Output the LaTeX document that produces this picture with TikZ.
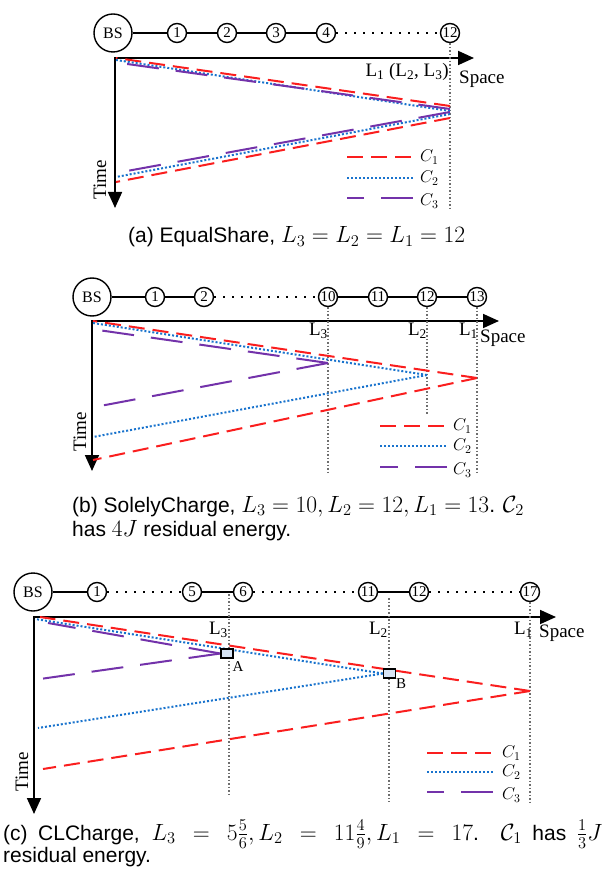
\RequirePackage{fix-cm}
\documentclass[tikz,border=0pt]{standalone}
\usepackage[no-math]{fontspec}
\setmainfont{Liberation Serif}
\newfontfamily\capfont{Liberation Sans}
\usetikzlibrary{arrows.meta}
\definecolor{cred}{RGB}{250,30,30}
\definecolor{cblue}{RGB}{25,115,205}
\definecolor{cpurple}{RGB}{115,50,170}
\definecolor{cgray}{RGB}{110,110,110}
\definecolor{boxfill}{RGB}{215,228,245}
\newcommand\Lab[1]{L\textsubscript{#1}}
\newcommand\capmath[1]{{\fontsize{23.5}{26}\selectfont$#1$}}
\begin{document}
\begin{tikzpicture}[x=1pt,y=-1pt,
  cone/.style={draw=cred, line width=2pt, dash pattern=on 16pt off 8pt},
  ctwo/.style={draw=cblue, line width=2pt, dash pattern=on 2pt off 2pt},
  cthree/.style={draw=cpurple, line width=2pt, dash pattern=on 32pt off 17pt},
  guideline/.style={draw=cgray, line width=1.3pt, dash pattern=on 1.5pt off 2pt},
  axisline/.style={draw=black, line width=1.8pt, {Triangle[length=16pt,width=14pt]}-{Triangle[length=16pt,width=14pt]}},
  sn/.style={circle, draw, line width=1.4pt, minimum size=19pt, inner sep=0pt, font=\fontsize{15}{15}\selectfont},
  bs/.style={circle, draw, line width=1.4pt, minimum size=38pt, inner sep=0pt, font=\fontsize{16}{16}\selectfont},
  linkline/.style={line width=1.4pt},
  dotline/.style={line width=1.6pt, dash pattern=on 1.6pt off 7.4pt},
  lab/.style={font=\fontsize{19}{19}\selectfont, inner sep=0pt},
  leg/.style={font=\fontsize{17}{17}\selectfont, inner sep=0pt, anchor=west},
  ptbox/.style={draw, line width=1.4pt, fill=boxfill, minimum width=12pt, minimum height=9pt, inner sep=0pt},
  ptlab/.style={font=\fontsize{15}{15}\selectfont, inner sep=0pt},
  captext/.style={font=\capfont\fontsize{21}{24}\selectfont, inner sep=0pt, anchor=base west}
]
\useasboundingbox (0,0) rectangle (607,874);

% ================= Panel (a) =================
\node[bs] (aBS) at (113,33) {BS};
\node[sn] (a1) at (177,33) {1};
\node[sn] (a2) at (227,33) {2};
\node[sn] (a3) at (276,33) {3};
\node[sn] (a4) at (326,33) {4};
\node[sn] (a12) at (450,33) {12};
\draw[linkline] (aBS) -- (a1) -- (a2) -- (a3) -- (a4);
\draw[dotline] (a4) -- (a12);
\coordinate (aO) at (115,58);
\coordinate (aX) at (474,58);
\coordinate (aY) at (115,208);
\draw[axisline] (aX) -- (aO) -- (aY);
\coordinate (ag) at (450,208);
\draw[guideline] (a12.south) -- (ag);
\node[lab, anchor=east] (aL) at (449,72) {\Lab{1} (\Lab{2}, \Lab{3})};
\node[lab, anchor=west] (aS) at (459,79) {Space};
\node[lab, rotate=90] (aT) at (100,180) {Time};
\coordinate (ar1) at (116,58);  \coordinate (ar2) at (450,106);
\coordinate (ar3) at (450,118); \coordinate (ar4) at (116,182);
\coordinate (ab1) at (116,60);  \coordinate (ab2) at (450,111);
\coordinate (ab3) at (450,114); \coordinate (ab4) at (116,177);
\coordinate (ap1) at (120,63);  \coordinate (ap2) at (450,109);
\coordinate (ap3) at (450,112); \coordinate (ap4) at (116,173);
\draw[cone] (ar2) -- (ar1); \draw[cone] (ar3) -- (ar4);
\draw[ctwo] (ab2) -- (ab1); \draw[ctwo] (ab3) -- (ab4);
\draw[cthree] (ap2) -- (ap1); \draw[cthree] (ap3) -- (ap4);
\coordinate (alr1) at (347,157); \coordinate (alr2) at (413,157);
\coordinate (alb1) at (347,178); \coordinate (alb2) at (413,178);
\coordinate (alp1) at (347,198); \coordinate (alp2) at (413,198);
\draw[cone] (alr1) -- (alr2); \node[leg] (alc1) at (420,157) {$C_1$};
\draw[ctwo] (alb1) -- (alb2); \node[leg] (alc2) at (420,178) {$C_2$};
\draw[cthree] (alp2) -- (alp1); \node[leg] (alc3) at (420,201) {$C_3$};
\node[captext] (capa) at (128,243) {(a) EqualShare, \capmath{L_3=L_2=L_1=12}};

% ================= Panel (b) =================
\node[bs] (bBS) at (92,297) {BS};
\node[sn] (b1) at (155,297) {1};
\node[sn] (b2) at (204,297) {2};
\node[sn] (b10) at (328,297) {10};
\node[sn] (b11) at (378,297) {11};
\node[sn] (b12) at (427,297) {12};
\node[sn] (b13) at (477,297) {13};
\draw[linkline] (bBS) -- (b1) -- (b2);
\draw[dotline] (b2) -- (b10);
\draw[linkline] (b10) -- (b11) -- (b12) -- (b13);
\coordinate (bO) at (92,321);
\coordinate (bX) at (499,321);
\coordinate (bY) at (92,471);
\draw[axisline] (bX) -- (bO) -- (bY);
\coordinate (bg3) at (328,472); \coordinate (bg2) at (427,415); \coordinate (bg1) at (477,472);
\draw[guideline] (b10.south) -- (bg3);
\draw[guideline] (b12.south) -- (bg2);
\draw[guideline] (b13.south) -- (bg1);
\node[lab, anchor=east] (bL3) at (328,331) {\Lab{3}};
\node[lab, anchor=east] (bL2) at (427,331) {\Lab{2}};
\node[lab, anchor=east] (bL1) at (478,331) {\Lab{1}};
\node[lab, anchor=west] (bS) at (480,338) {Space};
\node[lab, rotate=90] (bT) at (80,432) {Time};
\coordinate (br1) at (93,321);  \coordinate (br2) at (477,378); \coordinate (br3) at (93,460);
\coordinate (bb1) at (93,323);  \coordinate (bb2) at (427,375); \coordinate (bb3) at (93,437);
\coordinate (bp1) at (98,330);  \coordinate (bp2) at (328,363); \coordinate (bp3) at (100,406);
\draw[cone] (br2) -- (br1); \draw[cone] (br2) -- (br3);
\draw[ctwo] (bb2) -- (bb1); \draw[ctwo] (bb2) -- (bb3);
\draw[cthree] (bp2) -- (bp1); \draw[cthree] (bp2) -- (bp3);
\coordinate (blr1) at (380,426); \coordinate (blr2) at (447,426);
\coordinate (blb1) at (380,446); \coordinate (blb2) at (447,446);
\coordinate (blp1) at (380,467); \coordinate (blp2) at (447,467);
\draw[cone] (blr1) -- (blr2); \node[leg] (blc1) at (453,426) {$C_1$};
\draw[ctwo] (blb1) -- (blb2); \node[leg] (blc2) at (453,446) {$C_2$};
\draw[cthree] (blp2) -- (blp1); \node[leg] (blc3) at (453,470) {$C_3$};
\node[captext] (capb1) at (72,512) {(b) SolelyCharge, \capmath{L_3=10, L_2=12, L_1=13}. \capmath{\mathcal{C}_2}};
\node[captext] (capb2) at (72,536) {has \capmath{4J} residual energy.};

% ================= Panel (c) =================
\node[bs] (cBS) at (33,592) {BS};
\node[sn] (c1) at (97,592) {1};
\node[sn] (c5) at (192,592) {5};
\node[sn] (c6) at (243,592) {6};
\node[sn] (c11) at (368,592) {11};
\node[sn] (c12) at (419,592) {12};
\node[sn] (c17) at (530,592) {17};
\draw[linkline] (cBS) -- (c1);
\draw[dotline] (c1) -- (c5);
\draw[linkline] (c5) -- (c6);
\draw[dotline] (c6) -- (c11);
\draw[linkline] (c11) -- (c12);
\draw[dotline] (c12) -- (c17);
\coordinate (cO) at (34,617);
\coordinate (cX) at (556,617);
\coordinate (cY) at (34,814);
\draw[axisline] (cX) -- (cO) -- (cY);
\coordinate (cg3t) at (229,594); \coordinate (cg3) at (229,796);
\coordinate (cg2t) at (389,598); \coordinate (cg2) at (389,802);
\coordinate (cg1) at (530,802);
\draw[guideline] (cg3t) -- (cg3);
\draw[guideline] (cg2t) -- (cg2);
\draw[guideline] (c17.south) -- (cg1);
\node[lab, anchor=east] (cL3) at (228,630) {\Lab{3}};
\node[lab, anchor=east] (cL2) at (388,630) {\Lab{2}};
\node[lab, anchor=east] (cL1) at (533,630) {\Lab{1}};
\node[lab, anchor=west] (cS) at (539,633) {Space};
\node[lab, rotate=90] (cT) at (22,772) {Time};
\coordinate (cr1) at (40,617);  \coordinate (cr2) at (530,691); \coordinate (cr3) at (43,769);
\coordinate (cb1) at (35,619);  \coordinate (cb3) at (38,728);
\coordinate (cp1) at (48,623);  \coordinate (cp3) at (40,679);
\node[ptbox] (A) at (227,653.5) {};
\node[ptbox] (B) at (389.5,673.5) {};
\draw[cone] (cr2) -- (cr1); \draw[cone] (cr2) -- (cr3);
\draw[ctwo] (B.west) -- (cb1); \draw[ctwo] (B.west) -- (cb3);
\draw[cthree] (A.west) -- (cp1); \draw[cthree] (A.west) -- (cp3);
\node[ptbox] (A2) at (A) {};
\node[ptbox] (B2) at (B) {};
\node[ptlab] (Alab) at (238,667) {A};
\node[ptlab] (Blab) at (401,684) {B};
\coordinate (clr1) at (427,753); \coordinate (clr2) at (493,753);
\coordinate (clb1) at (427,772); \coordinate (clb2) at (493,772);
\coordinate (clp1) at (427,792); \coordinate (clp2) at (493,792);
\draw[cone] (clr1) -- (clr2); \node[leg] (clc1) at (502,753) {$C_1$};
\draw[ctwo] (clb1) -- (clb2); \node[leg] (clc2) at (502,772) {$C_2$};
\draw[cthree] (clp2) -- (clp1); \node[leg] (clc3) at (502,795) {$C_3$};
\node[captext] (capc1) at (3,840) {\makebox[599pt][s]{(c) CLCharge, \capmath{L_3 = 5\frac{5}{6}, L_2 = 11\frac{4}{9}, L_1 = 17}. \capmath{\mathcal{C}_1} has \capmath{\frac{1}{3}J}}};
\node[captext] (capc2) at (3,862) {residual energy.};
\end{tikzpicture}
\end{document}
